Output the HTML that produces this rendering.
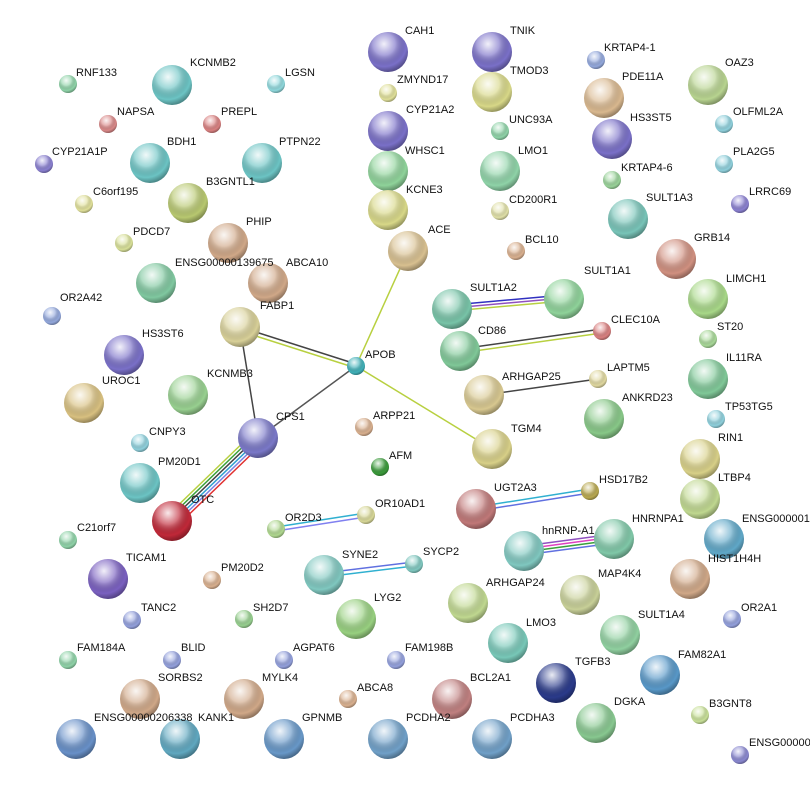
<!DOCTYPE html>
<html><head><meta charset="utf-8"><style>
html,body{margin:0;padding:0;background:#fff;}
svg text{font-family:"Liberation Sans",sans-serif;font-size:11px;fill:#111;}
</style></head><body>
<svg width="810" height="801" viewBox="0 0 810 801" xmlns="http://www.w3.org/2000/svg">
<defs>
<radialGradient id="s" cx="40%" cy="30%" r="70%">
<stop offset="0" stop-color="#fff" stop-opacity="0.9"/>
<stop offset="0.4" stop-color="#fff" stop-opacity="0.35"/>
<stop offset="0.8" stop-color="#000" stop-opacity="0"/>
<stop offset="1" stop-color="#000" stop-opacity="0.3"/>
</radialGradient>
</defs>
<g fill="none" stroke-width="1.5">
<line x1="240" y1="327" x2="356" y2="364" stroke="#444"/>
<line x1="240" y1="331" x2="356" y2="368" stroke="#b8d040"/>
<line x1="408" y1="251" x2="356" y2="366" stroke="#b8d040"/>
<line x1="356" y1="366" x2="258" y2="438" stroke="#555"/>
<line x1="356" y1="366" x2="492" y2="449" stroke="#b8d040"/>
<line x1="240" y1="327" x2="258" y2="438" stroke="#444"/>
<line x1="252" y1="434" x2="166" y2="517" stroke="#b8d040"/>
<line x1="254" y1="436" x2="168" y2="519" stroke="#3aa03a"/>
<line x1="256" y1="438" x2="170" y2="521" stroke="#444"/>
<line x1="258" y1="440" x2="172" y2="523" stroke="#30a0d0"/>
<line x1="260" y1="442" x2="174" y2="525" stroke="#8080e0"/>
<line x1="262" y1="444" x2="176" y2="527" stroke="#e03030"/>
<line x1="452" y1="305" x2="564" y2="295" stroke="#3030c0"/>
<line x1="452" y1="308" x2="564" y2="298" stroke="#9050c0"/>
<line x1="452" y1="311" x2="564" y2="301" stroke="#b8d040"/>
<line x1="460" y1="349" x2="602" y2="329" stroke="#444"/>
<line x1="460" y1="353" x2="602" y2="333" stroke="#b8d040"/>
<line x1="484" y1="395" x2="598" y2="379" stroke="#444"/>
<line x1="476" y1="507" x2="590" y2="489" stroke="#30b0d0"/>
<line x1="476" y1="511" x2="590" y2="493" stroke="#6070e0"/>
<line x1="276" y1="527" x2="366" y2="513" stroke="#30b0d0"/>
<line x1="276" y1="531" x2="366" y2="517" stroke="#8080f0"/>
<line x1="324" y1="573" x2="414" y2="562" stroke="#6070e0"/>
<line x1="324" y1="577" x2="414" y2="566" stroke="#30b0d0"/>
<line x1="524" y1="546" x2="614" y2="534" stroke="#9050c0"/>
<line x1="524" y1="549" x2="614" y2="537" stroke="#e040c0"/>
<line x1="524" y1="552" x2="614" y2="540" stroke="#3aa03a"/>
<line x1="524" y1="555" x2="614" y2="543" stroke="#6070e0"/>
</g>
<g stroke="none">
<circle cx="388" cy="52" r="20" fill="#7a70c8"/><circle cx="388" cy="52" r="20" fill="url(#s)"/>
<circle cx="492" cy="52" r="20" fill="#7a70c8"/><circle cx="492" cy="52" r="20" fill="url(#s)"/>
<circle cx="596" cy="60" r="9" fill="#93a8dc"/><circle cx="596" cy="60" r="9" fill="url(#s)"/>
<circle cx="68" cy="84" r="9" fill="#8fd3a8"/><circle cx="68" cy="84" r="9" fill="url(#s)"/>
<circle cx="172" cy="85" r="20" fill="#6cc4c4"/><circle cx="172" cy="85" r="20" fill="url(#s)"/>
<circle cx="276" cy="84" r="9" fill="#8fd8dc"/><circle cx="276" cy="84" r="9" fill="url(#s)"/>
<circle cx="388" cy="93" r="9" fill="#e0e09a"/><circle cx="388" cy="93" r="9" fill="url(#s)"/>
<circle cx="492" cy="92" r="20" fill="#d8d888"/><circle cx="492" cy="92" r="20" fill="url(#s)"/>
<circle cx="604" cy="98" r="20" fill="#d9b88f"/><circle cx="604" cy="98" r="20" fill="url(#s)"/>
<circle cx="708" cy="85" r="20" fill="#b8d490"/><circle cx="708" cy="85" r="20" fill="url(#s)"/>
<circle cx="108" cy="124" r="9" fill="#d98888"/><circle cx="108" cy="124" r="9" fill="url(#s)"/>
<circle cx="212" cy="124" r="9" fill="#d98080"/><circle cx="212" cy="124" r="9" fill="url(#s)"/>
<circle cx="388" cy="131" r="20" fill="#7a70c8"/><circle cx="388" cy="131" r="20" fill="url(#s)"/>
<circle cx="500" cy="131" r="9" fill="#8fd3a8"/><circle cx="500" cy="131" r="9" fill="url(#s)"/>
<circle cx="612" cy="139" r="20" fill="#7a70c8"/><circle cx="612" cy="139" r="20" fill="url(#s)"/>
<circle cx="724" cy="124" r="9" fill="#8fd0dc"/><circle cx="724" cy="124" r="9" fill="url(#s)"/>
<circle cx="44" cy="164" r="9" fill="#8a80d0"/><circle cx="44" cy="164" r="9" fill="url(#s)"/>
<circle cx="150" cy="163" r="20" fill="#6cc4c4"/><circle cx="150" cy="163" r="20" fill="url(#s)"/>
<circle cx="262" cy="163" r="20" fill="#6cc4c4"/><circle cx="262" cy="163" r="20" fill="url(#s)"/>
<circle cx="388" cy="171" r="20" fill="#8fd39a"/><circle cx="388" cy="171" r="20" fill="url(#s)"/>
<circle cx="500" cy="171" r="20" fill="#8fd3a8"/><circle cx="500" cy="171" r="20" fill="url(#s)"/>
<circle cx="612" cy="180" r="9" fill="#9ad39a"/><circle cx="612" cy="180" r="9" fill="url(#s)"/>
<circle cx="724" cy="164" r="9" fill="#8fd0dc"/><circle cx="724" cy="164" r="9" fill="url(#s)"/>
<circle cx="84" cy="204" r="9" fill="#e0e09a"/><circle cx="84" cy="204" r="9" fill="url(#s)"/>
<circle cx="188" cy="203" r="20" fill="#b8c870"/><circle cx="188" cy="203" r="20" fill="url(#s)"/>
<circle cx="388" cy="210" r="20" fill="#d8d888"/><circle cx="388" cy="210" r="20" fill="url(#s)"/>
<circle cx="500" cy="211" r="9" fill="#e0e0a8"/><circle cx="500" cy="211" r="9" fill="url(#s)"/>
<circle cx="628" cy="219" r="20" fill="#78c4b8"/><circle cx="628" cy="219" r="20" fill="url(#s)"/>
<circle cx="740" cy="204" r="9" fill="#8a80d0"/><circle cx="740" cy="204" r="9" fill="url(#s)"/>
<circle cx="124" cy="243" r="9" fill="#d8e098"/><circle cx="124" cy="243" r="9" fill="url(#s)"/>
<circle cx="228" cy="243" r="20" fill="#d0a888"/><circle cx="228" cy="243" r="20" fill="url(#s)"/>
<circle cx="408" cy="251" r="20" fill="#d8c090"/><circle cx="408" cy="251" r="20" fill="url(#s)"/>
<circle cx="516" cy="251" r="9" fill="#d9b08f"/><circle cx="516" cy="251" r="9" fill="url(#s)"/>
<circle cx="676" cy="259" r="20" fill="#d09080"/><circle cx="676" cy="259" r="20" fill="url(#s)"/>
<circle cx="156" cy="283" r="20" fill="#80c8a0"/><circle cx="156" cy="283" r="20" fill="url(#s)"/>
<circle cx="268" cy="283" r="20" fill="#d0a888"/><circle cx="268" cy="283" r="20" fill="url(#s)"/>
<circle cx="452" cy="309" r="20" fill="#78c4a8"/><circle cx="452" cy="309" r="20" fill="url(#s)"/>
<circle cx="564" cy="299" r="20" fill="#8fd39a"/><circle cx="564" cy="299" r="20" fill="url(#s)"/>
<circle cx="708" cy="299" r="20" fill="#a8d888"/><circle cx="708" cy="299" r="20" fill="url(#s)"/>
<circle cx="52" cy="316" r="9" fill="#93a8dc"/><circle cx="52" cy="316" r="9" fill="url(#s)"/>
<circle cx="240" cy="327" r="20" fill="#d8d098"/><circle cx="240" cy="327" r="20" fill="url(#s)"/>
<circle cx="602" cy="331" r="9" fill="#d98080"/><circle cx="602" cy="331" r="9" fill="url(#s)"/>
<circle cx="708" cy="339" r="9" fill="#a8d898"/><circle cx="708" cy="339" r="9" fill="url(#s)"/>
<circle cx="124" cy="355" r="20" fill="#7a70c8"/><circle cx="124" cy="355" r="20" fill="url(#s)"/>
<circle cx="460" cy="351" r="20" fill="#80c898"/><circle cx="460" cy="351" r="20" fill="url(#s)"/>
<circle cx="356" cy="366" r="9" fill="#40b0b8"/><circle cx="356" cy="366" r="9" fill="url(#s)"/>
<circle cx="708" cy="379" r="20" fill="#80c898"/><circle cx="708" cy="379" r="20" fill="url(#s)"/>
<circle cx="84" cy="403" r="20" fill="#d8c080"/><circle cx="84" cy="403" r="20" fill="url(#s)"/>
<circle cx="188" cy="395" r="20" fill="#98d090"/><circle cx="188" cy="395" r="20" fill="url(#s)"/>
<circle cx="484" cy="395" r="20" fill="#d8c890"/><circle cx="484" cy="395" r="20" fill="url(#s)"/>
<circle cx="598" cy="379" r="9" fill="#e0d8a0"/><circle cx="598" cy="379" r="9" fill="url(#s)"/>
<circle cx="604" cy="419" r="20" fill="#88c888"/><circle cx="604" cy="419" r="20" fill="url(#s)"/>
<circle cx="716" cy="419" r="9" fill="#8fd0dc"/><circle cx="716" cy="419" r="9" fill="url(#s)"/>
<circle cx="364" cy="427" r="9" fill="#d9b08f"/><circle cx="364" cy="427" r="9" fill="url(#s)"/>
<circle cx="258" cy="438" r="20" fill="#7a78c8"/><circle cx="258" cy="438" r="20" fill="url(#s)"/>
<circle cx="140" cy="443" r="9" fill="#8fd0dc"/><circle cx="140" cy="443" r="9" fill="url(#s)"/>
<circle cx="492" cy="449" r="20" fill="#d8d088"/><circle cx="492" cy="449" r="20" fill="url(#s)"/>
<circle cx="700" cy="459" r="20" fill="#d8d088"/><circle cx="700" cy="459" r="20" fill="url(#s)"/>
<circle cx="380" cy="467" r="9" fill="#3a9a3a"/><circle cx="380" cy="467" r="9" fill="url(#s)"/>
<circle cx="140" cy="483" r="20" fill="#6cc4c4"/><circle cx="140" cy="483" r="20" fill="url(#s)"/>
<circle cx="590" cy="491" r="9" fill="#b8a850"/><circle cx="590" cy="491" r="9" fill="url(#s)"/>
<circle cx="700" cy="499" r="20" fill="#c0d890"/><circle cx="700" cy="499" r="20" fill="url(#s)"/>
<circle cx="476" cy="509" r="20" fill="#c07878"/><circle cx="476" cy="509" r="20" fill="url(#s)"/>
<circle cx="276" cy="529" r="9" fill="#b0d890"/><circle cx="276" cy="529" r="9" fill="url(#s)"/>
<circle cx="366" cy="515" r="9" fill="#d8d898"/><circle cx="366" cy="515" r="9" fill="url(#s)"/>
<circle cx="172" cy="521" r="20" fill="#c02838"/><circle cx="172" cy="521" r="20" fill="url(#s)"/>
<circle cx="614" cy="539" r="20" fill="#80c8a8"/><circle cx="614" cy="539" r="20" fill="url(#s)"/>
<circle cx="724" cy="539" r="20" fill="#60a8c8"/><circle cx="724" cy="539" r="20" fill="url(#s)"/>
<circle cx="68" cy="540" r="9" fill="#8fd3a8"/><circle cx="68" cy="540" r="9" fill="url(#s)"/>
<circle cx="524" cy="551" r="20" fill="#80c8c0"/><circle cx="524" cy="551" r="20" fill="url(#s)"/>
<circle cx="690" cy="579" r="20" fill="#d0a888"/><circle cx="690" cy="579" r="20" fill="url(#s)"/>
<circle cx="324" cy="575" r="20" fill="#80c8c0"/><circle cx="324" cy="575" r="20" fill="url(#s)"/>
<circle cx="414" cy="564" r="9" fill="#80c8c0"/><circle cx="414" cy="564" r="9" fill="url(#s)"/>
<circle cx="108" cy="579" r="20" fill="#7a60c0"/><circle cx="108" cy="579" r="20" fill="url(#s)"/>
<circle cx="212" cy="580" r="9" fill="#d9b08f"/><circle cx="212" cy="580" r="9" fill="url(#s)"/>
<circle cx="468" cy="603" r="20" fill="#c0d890"/><circle cx="468" cy="603" r="20" fill="url(#s)"/>
<circle cx="580" cy="595" r="20" fill="#c8d098"/><circle cx="580" cy="595" r="20" fill="url(#s)"/>
<circle cx="356" cy="619" r="20" fill="#98d080"/><circle cx="356" cy="619" r="20" fill="url(#s)"/>
<circle cx="244" cy="619" r="9" fill="#98d090"/><circle cx="244" cy="619" r="9" fill="url(#s)"/>
<circle cx="132" cy="620" r="9" fill="#93a0dc"/><circle cx="132" cy="620" r="9" fill="url(#s)"/>
<circle cx="732" cy="619" r="9" fill="#93a0dc"/><circle cx="732" cy="619" r="9" fill="url(#s)"/>
<circle cx="620" cy="635" r="20" fill="#90d0a0"/><circle cx="620" cy="635" r="20" fill="url(#s)"/>
<circle cx="508" cy="643" r="20" fill="#78c8b8"/><circle cx="508" cy="643" r="20" fill="url(#s)"/>
<circle cx="68" cy="660" r="9" fill="#8fd3a8"/><circle cx="68" cy="660" r="9" fill="url(#s)"/>
<circle cx="172" cy="660" r="9" fill="#93a0dc"/><circle cx="172" cy="660" r="9" fill="url(#s)"/>
<circle cx="284" cy="660" r="9" fill="#93a0dc"/><circle cx="284" cy="660" r="9" fill="url(#s)"/>
<circle cx="396" cy="660" r="9" fill="#93a0dc"/><circle cx="396" cy="660" r="9" fill="url(#s)"/>
<circle cx="660" cy="675" r="20" fill="#5898c8"/><circle cx="660" cy="675" r="20" fill="url(#s)"/>
<circle cx="556" cy="683" r="20" fill="#2a3a8a"/><circle cx="556" cy="683" r="20" fill="url(#s)"/>
<circle cx="140" cy="699" r="20" fill="#d0a888"/><circle cx="140" cy="699" r="20" fill="url(#s)"/>
<circle cx="244" cy="699" r="20" fill="#d0a888"/><circle cx="244" cy="699" r="20" fill="url(#s)"/>
<circle cx="348" cy="699" r="9" fill="#d9b08f"/><circle cx="348" cy="699" r="9" fill="url(#s)"/>
<circle cx="452" cy="699" r="20" fill="#c08080"/><circle cx="452" cy="699" r="20" fill="url(#s)"/>
<circle cx="596" cy="723" r="20" fill="#88c890"/><circle cx="596" cy="723" r="20" fill="url(#s)"/>
<circle cx="700" cy="715" r="9" fill="#c8e098"/><circle cx="700" cy="715" r="9" fill="url(#s)"/>
<circle cx="76" cy="739" r="20" fill="#6890c8"/><circle cx="76" cy="739" r="20" fill="url(#s)"/>
<circle cx="180" cy="739" r="20" fill="#60a8c0"/><circle cx="180" cy="739" r="20" fill="url(#s)"/>
<circle cx="284" cy="739" r="20" fill="#6898c8"/><circle cx="284" cy="739" r="20" fill="url(#s)"/>
<circle cx="388" cy="739" r="20" fill="#70a0c8"/><circle cx="388" cy="739" r="20" fill="url(#s)"/>
<circle cx="492" cy="739" r="20" fill="#70a0c8"/><circle cx="492" cy="739" r="20" fill="url(#s)"/>
<circle cx="740" cy="755" r="9" fill="#8a88d0"/><circle cx="740" cy="755" r="9" fill="url(#s)"/>
</g>
<g>
<text x="405" y="34">CAH1</text>
<text x="510" y="34">TNIK</text>
<text x="604" y="51">KRTAP4-1</text>
<text x="76" y="76">RNF133</text>
<text x="190" y="66">KCNMB2</text>
<text x="285" y="76">LGSN</text>
<text x="397" y="83">ZMYND17</text>
<text x="510" y="74">TMOD3</text>
<text x="622" y="80">PDE11A</text>
<text x="725" y="66">OAZ3</text>
<text x="117" y="115">NAPSA</text>
<text x="221" y="115">PREPL</text>
<text x="406" y="113">CYP21A2</text>
<text x="509" y="123">UNC93A</text>
<text x="630" y="121">HS3ST5</text>
<text x="733" y="115">OLFML2A</text>
<text x="52" y="155">CYP21A1P</text>
<text x="167" y="145">BDH1</text>
<text x="279" y="145">PTPN22</text>
<text x="405" y="154">WHSC1</text>
<text x="518" y="154">LMO1</text>
<text x="621" y="171">KRTAP4-6</text>
<text x="733" y="155">PLA2G5</text>
<text x="93" y="195">C6orf195</text>
<text x="206" y="185">B3GNTL1</text>
<text x="406" y="193">KCNE3</text>
<text x="509" y="203">CD200R1</text>
<text x="646" y="201">SULT1A3</text>
<text x="749" y="195">LRRC69</text>
<text x="133" y="235">PDCD7</text>
<text x="246" y="225">PHIP</text>
<text x="428" y="233">ACE</text>
<text x="525" y="243">BCL10</text>
<text x="694" y="241">GRB14</text>
<text x="175" y="266">ENSG00000139675</text>
<text x="286" y="266">ABCA10</text>
<text x="470" y="291">SULT1A2</text>
<text x="584" y="274">SULT1A1</text>
<text x="726" y="282">LIMCH1</text>
<text x="60" y="301">OR2A42</text>
<text x="260" y="309">FABP1</text>
<text x="611" y="323">CLEC10A</text>
<text x="717" y="330">ST20</text>
<text x="142" y="337">HS3ST6</text>
<text x="478" y="334">CD86</text>
<text x="365" y="358">APOB</text>
<text x="726" y="361">IL11RA</text>
<text x="102" y="384">UROC1</text>
<text x="207" y="377">KCNMB3</text>
<text x="502" y="380">ARHGAP25</text>
<text x="607" y="371">LAPTM5</text>
<text x="622" y="401">ANKRD23</text>
<text x="725" y="410">TP53TG5</text>
<text x="373" y="419">ARPP21</text>
<text x="276" y="420">CPS1</text>
<text x="149" y="435">CNPY3</text>
<text x="511" y="432">TGM4</text>
<text x="718" y="441">RIN1</text>
<text x="389" y="459">AFM</text>
<text x="158" y="465">PM20D1</text>
<text x="599" y="483">HSD17B2</text>
<text x="718" y="481">LTBP4</text>
<text x="494" y="491">UGT2A3</text>
<text x="285" y="521">OR2D3</text>
<text x="375" y="507">OR10AD1</text>
<text x="191" y="503">OTC</text>
<text x="632" y="522">HNRNPA1</text>
<text x="742" y="522">ENSG000001</text>
<text x="77" y="531">C21orf7</text>
<text x="542" y="534">hnRNP-A1</text>
<text x="708" y="562">HIST1H4H</text>
<text x="342" y="558">SYNE2</text>
<text x="423" y="555">SYCP2</text>
<text x="126" y="561">TICAM1</text>
<text x="221" y="571">PM20D2</text>
<text x="486" y="586">ARHGAP24</text>
<text x="598" y="577">MAP4K4</text>
<text x="374" y="601">LYG2</text>
<text x="253" y="611">SH2D7</text>
<text x="141" y="611">TANC2</text>
<text x="741" y="611">OR2A1</text>
<text x="638" y="618">SULT1A4</text>
<text x="526" y="626">LMO3</text>
<text x="77" y="651">FAM184A</text>
<text x="181" y="651">BLID</text>
<text x="293" y="651">AGPAT6</text>
<text x="405" y="651">FAM198B</text>
<text x="678" y="658">FAM82A1</text>
<text x="575" y="665">TGFB3</text>
<text x="158" y="681">SORBS2</text>
<text x="262" y="681">MYLK4</text>
<text x="357" y="691">ABCA8</text>
<text x="470" y="681">BCL2A1</text>
<text x="614" y="705">DGKA</text>
<text x="709" y="707">B3GNT8</text>
<text x="94" y="721">ENSG00000206338</text>
<text x="198" y="721">KANK1</text>
<text x="302" y="721">GPNMB</text>
<text x="406" y="721">PCDHA2</text>
<text x="510" y="721">PCDHA3</text>
<text x="749" y="746">ENSG00000</text>
</g>
</svg>
</body></html>
